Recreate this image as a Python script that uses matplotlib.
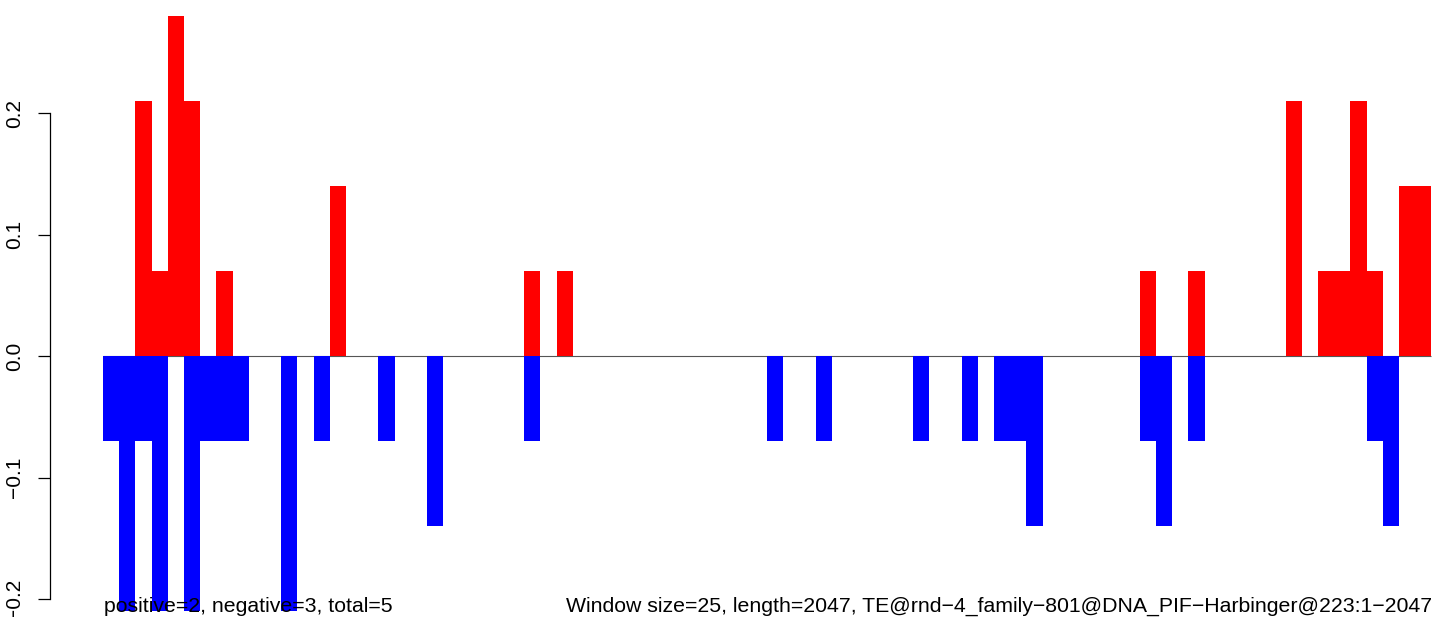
import matplotlib
matplotlib.use("Agg")
import matplotlib.pyplot as plt

plt.rcParams['font.family'] = ['Liberation Sans', 'DejaVu Sans']

n_bins = 82

pos_bins = [2, 3, 4, 5, 7, 14, 26, 28, 64, 67, 73, 75, 76, 77, 78, 80, 81]
pos_vals = [0.21, 0.07, 0.28, 0.21, 0.07, 0.14, 0.07, 0.07, 0.07, 0.07,
            0.21, 0.07, 0.07, 0.21, 0.07, 0.14, 0.14]

neg_bins = [0, 1, 2, 3, 5, 6, 7, 8, 11, 13, 17, 20, 26, 41, 44, 50, 53,
            55, 56, 57, 64, 65, 67, 78, 79]
neg_vals = [-0.07, -0.21, -0.07, -0.21, -0.21, -0.07, -0.07, -0.07, -0.21,
            -0.07, -0.07, -0.14, -0.07, -0.07, -0.07, -0.07, -0.07, -0.07,
            -0.07, -0.14, -0.07, -0.14, -0.07, -0.07, -0.14]

yticks = [-0.2, -0.1, 0.0, 0.1, 0.2]
ytick_labels = ["\u22120.2", "\u22120.1", "0.0", "0.1", "0.2"]

left_note = "positive=2, negative=3, total=5"
right_note = ("Window size=25, length=2047, TE@rnd\u22124_family\u2212801"
              "@DNA_PIF\u2212Harbinger@223:1\u22122047")

W, H = 1436, 617
fig = plt.figure(figsize=(W / 100, H / 100), dpi=100)

# plot area: left edge = y axis line
ax_left = 50
ax = fig.add_axes([ax_left / W, 0, 1 - ax_left / W, 1])

# pixel mapping: bin i starts at 103 + 16.2*i
bin_px = 16.2
x0_px = 103
ax.set_xlim((ax_left - x0_px) / bin_px, (W - x0_px) / bin_px)
# y: 0 at 356 px from top, 0.1 per 121.5 px
ax.set_ylim(-(H - 356) / 1215.0, 356 / 1215.0)

ax.hlines(0, 0, n_bins, color="#555555", lw=0.8, zorder=1)
ax.bar(pos_bins, pos_vals, width=1.0, align="edge", color="#ff0000",
       linewidth=0, antialiased=False, zorder=2)
ax.bar(neg_bins, neg_vals, width=1.0, align="edge", color="#0000ff",
       linewidth=0, antialiased=False, zorder=2)

for s in ["top", "right", "bottom"]:
    ax.spines[s].set_visible(False)
ax.spines["left"].set_bounds(-0.2, 0.2)
ax.spines["left"].set_linewidth(0.9)
ax.set_xticks([])
ax.set_yticks(yticks)
ax.set_yticklabels(ytick_labels, rotation=90, va="center", fontsize=15)
ax.tick_params(axis="y", length=8.6, width=0.9, pad=10)
ax.patch.set_alpha(0)

fig.text(104 / W, 1 - 612 / H, left_note, ha="left", va="baseline",
         fontsize=15.3, color="black", zorder=5)
fig.text(1432 / W, 1 - 612 / H, right_note, ha="right", va="baseline",
         fontsize=15.3, color="black", zorder=5)

fig.savefig("out.png", dpi=100, facecolor="white")
